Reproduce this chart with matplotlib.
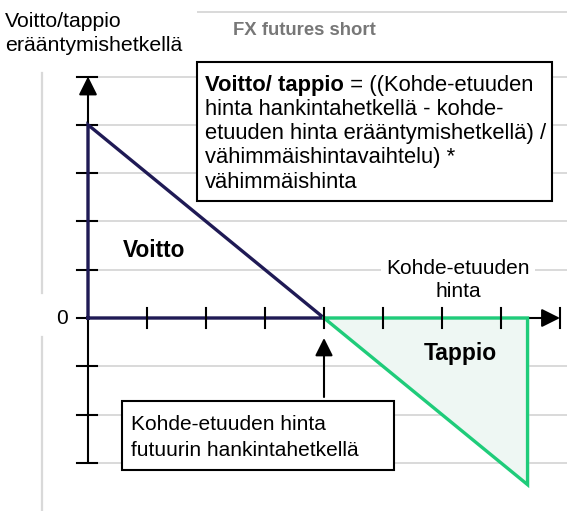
import matplotlib
matplotlib.use("Agg")
import matplotlib.pyplot as plt
from matplotlib.patches import Rectangle

plt.rcParams['font.family'] = ['Liberation Sans', 'DejaVu Sans']

# Data (chart units: one tick = 1)
strike = 4            # kohde-etuuden hinta hankintahetkellä
max_profit = 4        # voitto kun hinta = 0
price_end = 7.45      # oikean reunan hinta
loss_end = -3.45      # tappio oikeassa reunassa
x_ticks = [1, 2, 3, 4, 5, 6, 7, 8]
y_ticks = [-3, -2, -1, 1, 2, 3, 4, 5]
grid_levels = [-3, -2, -1, 1, 2, 3, 4, 5]

formula_lines = ['hinta hankintahetkellä - kohde-',
                 'etuuden hinta erääntymishetkellä) /',
                 'vähimmäishintavaihtelu) *',
                 'vähimmäishinta']

blue = '#1f1a55'
green = '#1fcc7a'
fill_green = '#eef7f3'
grid_gray = '#d9d9d9'

fig = plt.figure(figsize=(5.67, 5.11), dpi=100)
ax = fig.add_axes([0, 0, 1, 1])
ax.set_xlim(-88 / 59, (567 - 88) / 59)
ax.set_ylim(-(511 - 318) / 48.3, 318 / 48.3)
ax.axis('off')


def px(x, y):
    # pikselit (vasen ylänurkka) -> kaavion yksiköt
    return (x - 88) / 59, (318 - y) / 48.3


# taustan harmaat viivat
x_right = ax.get_xlim()[1]
for lvl in grid_levels:
    ax.plot([0.16, x_right], [lvl, lvl], color=grid_gray, lw=1.4, zorder=0)
ax.plot([1.86, x_right], [6.34, 6.34], color=grid_gray, lw=1.4, zorder=0)
ax.plot([-0.78, -0.78], [5.07, 0.52], color=grid_gray, lw=1.6, zorder=0)
ax.plot([-0.78, -0.78], [-0.39, ax.get_ylim()[0]], color=grid_gray, lw=1.6, zorder=0)

# akselit nuolineen
ax.annotate('', xy=(0, 5), xytext=(0, y_ticks[0]),
            arrowprops=dict(arrowstyle='-|>', mutation_scale=28, lw=1.5,
                            color='black', shrinkA=0, shrinkB=0), zorder=3)
ax.annotate('', xy=(8, 0), xytext=(0, 0),
            arrowprops=dict(arrowstyle='-|>', mutation_scale=28, lw=1.5,
                            color='black', shrinkA=0, shrinkB=0), zorder=3)
for yt in y_ticks:
    ax.plot([-0.186, 0.153], [yt, yt], color='black', lw=1.5, zorder=3)
ax.plot([-0.186, 0], [0, 0], color='black', lw=1.5, zorder=3)
for xt in x_ticks:
    ax.plot([xt, xt], [-0.2, 0.2], color='black', lw=1.5, zorder=5)

# voitto (sininen kolmio)
ax.plot([0, 0, strike, 0], [0, max_profit, 0, 0], color=blue, lw=2.4,
        solid_joinstyle='miter', zorder=4)

# tappio (vihreä kolmio)
ax.fill([strike, price_end, price_end], [0, 0, loss_end], color=fill_green, zorder=1)
ax.plot([strike, price_end, price_end, strike], [0, 0, loss_end, 0], color=green,
        lw=2.4, solid_joinstyle='miter', zorder=4)

# nuoli hankintahinnan kohdalle
ax.annotate('', xy=(strike, -0.414), xytext=(strike, -1.636),
            arrowprops=dict(arrowstyle='-|>', mutation_scale=27, lw=1.5,
                            color='black', shrinkA=0, shrinkB=0), zorder=3)

# tekstit
ax.text(*px(5, 21), 'Voitto/tappio', fontsize=15.3, ha='left', va='center')
ax.text(*px(5, 45), 'erääntymishetkellä', fontsize=15.3, ha='left', va='center')
ax.text(*px(233, 30), 'FX futures short', fontsize=13.3,
        fontweight='bold', color='#777777', ha='left', va='center')
ax.text(-0.44, 0, '0', fontsize=15, ha='center', va='center')
ax.text(*px(123, 250), 'Voitto', fontsize=16.3, fontweight='bold', ha='left', va='center')
ax.text(*px(424, 353), 'Tappio', fontsize=16.5, fontweight='bold', ha='left', va='center')
ax.text(*px(458, 268), 'Kohde-etuuden', fontsize=15, ha='center', va='center',
        bbox=dict(facecolor='white', edgecolor='none', pad=4), zorder=2)
ax.text(*px(458, 291), 'hinta', fontsize=15, ha='center', va='center', zorder=2)

# kaavalaatikko
ax.add_patch(Rectangle(px(197, 201), (552 - 197) / 59, (201 - 62) / 48.3,
                       facecolor='white', edgecolor='black', lw=1.5, zorder=6))
t_bold = ax.text(*px(205, 85), 'Voitto/ tappio', fontsize=15.8,
                 fontweight='bold', ha='left', va='center', zorder=7)
ax.annotate(' = ((Kohde-etuuden', xy=(1, 0), xycoords=t_bold, ha='left', va='bottom',
            fontsize=15.8, zorder=7)
for i, line in enumerate(formula_lines):
    ax.text(*px(205, 109.3 + 24.3 * i), line, fontsize=15.8, ha='left',
            va='center', zorder=7)

# hankintahinnan laatikko
ax.add_patch(Rectangle(px(122, 470), (394 - 122) / 59, (470 - 401) / 48.3,
                       facecolor='white', edgecolor='black', lw=1.5, zorder=6))
ax.text(*px(131, 424), 'Kohde-etuuden hinta', fontsize=15, ha='left',
        va='center', zorder=7)
ax.text(*px(131, 450), 'futuurin hankintahetkellä', fontsize=15, ha='left',
        va='center', zorder=7)

fig.savefig('out.png', dpi=100)
